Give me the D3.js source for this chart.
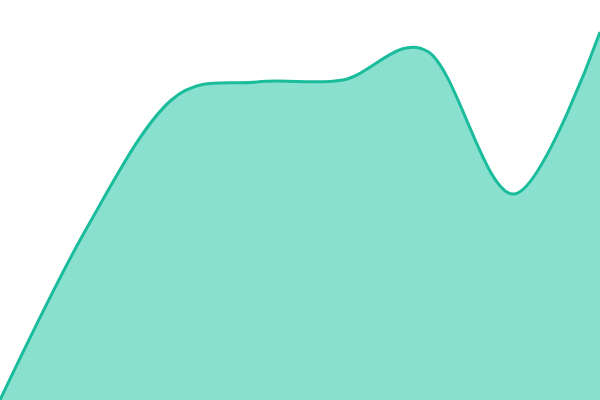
<!DOCTYPE html>
<html>
<head>
<meta charset="utf-8">
<script src="https://cdn.jsdelivr.net/npm/d3@7"></script>
<style>
  html, body { margin: 0; padding: 0; background: #fff; }
  svg { display: block; }
</style>
</head>
<body>
<svg id="chart" width="600" height="400"></svg>
<script>
const steps = [0, 1, 2, 3, 4, 5, 6, 7];
const values = [0, 42.5, 75, 79.5, 80, 87, 51.5, 92];

let dimensions = (svg, m = {top: 0, left: 0, right: 0, bottom: 0}) =>
    ({width: +svg.attr("width"), height: +svg.attr("height"), margin: m,
      innerWidth: +svg.attr("width") - m.left - m.right,
      innerHeight: +svg.attr("height") - m.top - m.bottom});

function areaChart(id) {
    const svg = d3.select(`#${id}`);
    const dim = dimensions(svg);
    const data = steps.map((s, i) => ({x: s, y: values[i]}));

    const x = d3.scaleLinear()
          .domain(d3.extent(steps))
          .range([0, dim.innerWidth]);
    const y = d3.scaleLinear()
          .domain([0, 100])
          .range([dim.innerHeight, 0]);

    const g = svg.append("g")
          .attr("transform", `translate(${dim.margin.left}, ${dim.margin.top})`);

    g.append("path")
        .attr("d", d3.area()
              .x(d => x(d.x))
              .y0(y(0))
              .y1(d => y(d.y))
              .curve(d3.curveCardinal)(data))
        .attr("fill", "#89e0cf");

    g.append("path")
        .attr("d", d3.line()
              .x(d => x(d.x))
              .y(d => y(d.y))
              .curve(d3.curveCardinal)(data))
        .attr("fill", "none")
        .attr("stroke", "#1abc9c")
        .attr("stroke-width", 3);
}
areaChart("chart");
</script>
</body>
</html>
